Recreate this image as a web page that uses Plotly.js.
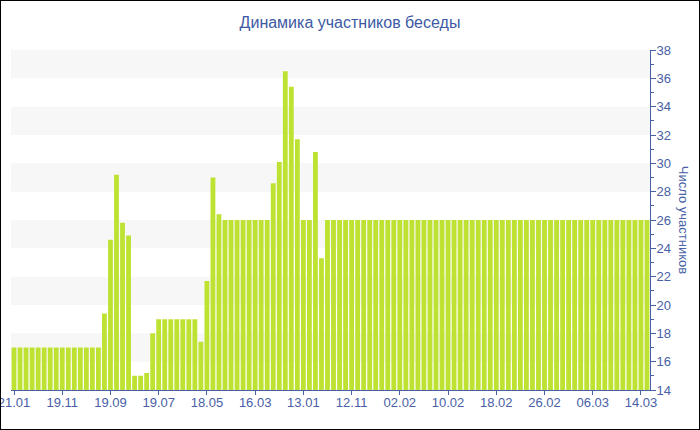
<!DOCTYPE html>
<html>
<head>
<meta charset="utf-8">
<script src="https://cdn.plot.ly/plotly-3.0.1.min.js"></script>
<style>
  html, body { margin: 0; padding: 0; background: #fff; }
  #wrap { position: relative; width: 700px; height: 430px; }
  #chart { width: 700px; height: 430px; }
  #frame { position: absolute; left: 0; top: 0; width: 700px; height: 430px; box-sizing: border-box; border: 1px solid #000; pointer-events: none; }
</style>
</head>
<body>
<div id="wrap"><div id="chart"></div><div id="frame"></div></div>
<script>
// Categories (full dates, shown as dd.mm on every 8th tick)
const categories = [
  '21.01.2019','13.01.2019','05.01.2019','28.12.2018','20.12.2018','12.12.2018','04.12.2018','27.11.2018',
  '19.11.2018','11.11.2018','03.11.2018','26.10.2018','18.10.2018','11.10.2018','03.10.2018','26.09.2018',
  '19.09.2018','11.09.2018','03.09.2018','26.08.2018','18.08.2018','10.08.2018','03.08.2018','26.07.2018',
  '19.07.2018','11.07.2018','03.07.2018','25.06.2018','17.06.2018','09.06.2018','01.06.2018','25.05.2018',
  '18.05.2018','10.05.2018','02.05.2018','24.04.2018','16.04.2018','08.04.2018','31.03.2018','23.03.2018',
  '16.03.2018','08.03.2018','28.02.2018','20.02.2018','12.02.2018','04.02.2018','28.01.2018','20.01.2018',
  '13.01.2018','05.01.2018','28.12.2017','20.12.2017','12.12.2017','04.12.2017','26.11.2017','19.11.2017',
  '12.11.2017','04.11.2017','27.10.2017','19.10.2017','11.10.2017','03.10.2017','25.09.2017','17.09.2017',
  '02.02.2019','03.02.2019','04.02.2019','05.02.2019','06.02.2019','07.02.2019','08.02.2019','09.02.2019',
  '10.02.2019','11.02.2019','12.02.2019','13.02.2019','14.02.2019','15.02.2019','16.02.2019','17.02.2019',
  '18.02.2019','19.02.2019','20.02.2019','21.02.2019','22.02.2019','23.02.2019','24.02.2019','25.02.2019',
  '26.02.2019','27.02.2019','28.02.2019','01.03.2019','02.03.2019','03.03.2019','04.03.2019','05.03.2019',
  '06.03.2019','07.03.2019','08.03.2019','09.03.2019','10.03.2019','11.03.2019','12.03.2019','13.03.2019',
  '14.03.2019','15.03.2019'
];

// Number of participants
const participants = [
  17, 17, 17, 17, 17, 17, 17, 17,
  17, 17, 17, 17, 17, 17, 17, 19.4,
  24.6, 29.2, 25.8, 24.9, 15, 15, 15.2, 18,
  19, 19, 19, 19, 19, 19, 19, 17.4,
  21.7, 29, 26.4, 26, 26, 26, 26, 26,
  26, 26, 26, 28.6, 30.1, 36.5, 35.4, 31.7,
  26, 26, 30.8, 23.3, 26, 26, 26, 26,
  26, 26, 26, 26, 26, 26, 26, 26,
  26, 26, 26, 26, 26, 26, 26, 26,
  26, 26, 26, 26, 26, 26, 26, 26,
  26, 26, 26, 26, 26, 26, 26, 26,
  26, 26, 26, 26, 26, 26, 26, 26,
  26, 26, 26, 26, 26, 26, 26, 26,
  26, 26
];

// Tick labels shown under every 8th bar
const tickLabels = ['21.01','19.11','19.09','19.07','18.05','16.03','13.01','12.11','02.02','10.02','18.02','26.02','06.03','14.03'];

const titleText = 'Динамика участников беседы';
const yTitleText = 'Число участников';

const blue = '#4760a6';
const font = 'Liberation Sans, Arial, sans-serif';
const tickVals = categories.filter((c, i) => i % 8 === 0);

const yMin = 14, yMax = 38;
const shapes = [];
for (let v = yMin + 2; v < yMax; v += 4) {
  shapes.push({type: 'rect', xref: 'paper', yref: 'y', x0: 0, x1: 1, y0: v, y1: v + 2,
    fillcolor: '#f7f7f7', line: {width: 0}, layer: 'below'});
}

const data = [{
  type: 'bar',
  x: categories,
  y: participants,
  marker: {color: '#bde232', line: {width: 0}},
  hoverinfo: 'x+y'
}];

const layout = {
  width: 700, height: 430,
  margin: {l: 11, r: 50, t: 50, b: 40},
  paper_bgcolor: '#fff', plot_bgcolor: '#fff',
  bargap: 0.2,
  showlegend: false,
  title: {text: titleText, x: 0.5, xref: 'container', y: 0.947, yref: 'container', yanchor: 'middle',
    font: {family: font, size: 16, color: '#3d59a3'}},
  xaxis: {
    type: 'category',
    range: [-0.5, categories.length - 0.5],
    tickmode: 'array', tickvals: tickVals, ticktext: tickLabels,
    ticks: 'outside', ticklen: 4, tickcolor: blue, tickwidth: 1,
    ticklabelstandoff: -4,
    showline: true, linecolor: blue, linewidth: 1,
    showgrid: false, zeroline: false,
    tickfont: {family: font, size: 13, color: blue},
    fixedrange: true
  },
  yaxis: {
    side: 'right',
    range: [yMin, yMax], dtick: 2, tick0: 14,
    ticks: 'outside', ticklen: 5, tickcolor: blue, tickwidth: 1,
    ticklabelstandoff: -2,
    minor: {dtick: 1, ticks: 'outside', ticklen: 3, tickcolor: blue, showgrid: false},
    showline: true, linecolor: blue, linewidth: 1,
    showgrid: false, zeroline: false,
    tickfont: {family: font, size: 13, color: blue},
    fixedrange: true
  },
  shapes: shapes,
  annotations: [{
    text: yTitleText, textangle: 90, xref: 'paper', yref: 'paper', x: 1.0535, y: 0.5,
    xanchor: 'center', yanchor: 'middle', showarrow: false,
    font: {family: font, size: 13, color: blue}
  }]
};

Plotly.newPlot('chart', data, layout, {displayModeBar: false, staticPlot: true});
</script>
</body>
</html>
